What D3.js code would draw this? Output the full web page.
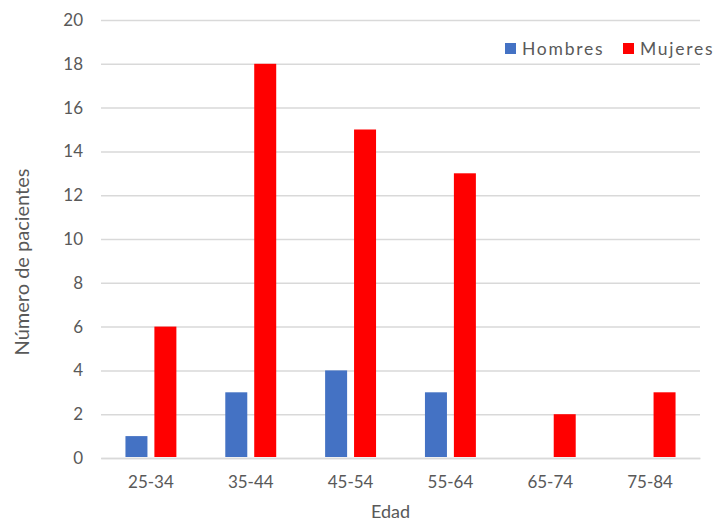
<!DOCTYPE html>
<html>
<head>
<meta charset="utf-8">
<script src="https://cdn.jsdelivr.net/npm/d3@7"></script>
<style>
  html, body { margin: 0; padding: 0; background: #fff; }
  svg { display: block; }
  text { font-family: Lato, "Open Sans", sans-serif; fill: #595959; }
</style>
</head>
<body>
<svg id="chart" width="714" height="522"></svg>
<script>
// Age groups and patient counts by sex
const categories = ["25-34", "35-44", "45-54", "55-64", "65-74", "75-84"];
const hombres = [1, 3, 4, 3, 0, 0];
const mujeres = [6, 18, 15, 13, 2, 3];
const seriesNames = ["Hombres", "Mujeres"];
const seriesColors = ["#4472C4", "#FF0000"];
const yTicks = [0, 2, 4, 6, 8, 10, 12, 14, 16, 18, 20];

const W = 714, H = 522;
const margin = { top: 20, right: 14, bottom: 64, left: 101 };
const plotW = W - margin.left - margin.right;
const plotH = H - margin.top - margin.bottom;

const svg = d3.select("#chart");
const g = svg.append("g").attr("transform", `translate(${margin.left},${margin.top})`);

const x0 = d3.scaleBand().domain(categories).range([0, plotW]).padding(0);
const x1 = d3.scaleBand().domain(seriesNames).range([0, x0.bandwidth()])
  .paddingInner(0.24).paddingOuter(0.845);
const y = d3.scaleLinear().domain([0, 20]).range([plotH, 0]);

// Horizontal gridlines
const yAxis = d3.axisLeft(y).tickValues(yTicks).tickSize(-plotW).tickFormat(d3.format("d")).tickPadding(18);
const ya = g.append("g").call(yAxis);
ya.select(".domain").remove();
ya.selectAll(".tick line").attr("stroke", "#d9d9d9").attr("stroke-width", 1.5);
ya.selectAll(".tick text").attr("font-size", 17).attr("fill", "#595959")
  .attr("font-family", "Lato, sans-serif");

// Category axis
const xAxis = d3.axisBottom(x0).tickSize(0).tickPadding(18);
const xa = g.append("g").attr("transform", `translate(0,${plotH})`).call(xAxis);
xa.select(".domain").attr("stroke", "#d9d9d9").attr("stroke-width", 1.5);
xa.selectAll(".tick text").attr("font-size", 17).attr("fill", "#595959")
  .attr("font-family", "Lato, sans-serif");

// Bars
const rows = categories.map((c, i) => ({ cat: c, values: [hombres[i], mujeres[i]] }));
const groups = g.selectAll("g.grp").data(rows).join("g")
  .attr("class", "grp")
  .attr("transform", d => `translate(${x0(d.cat)},0)`);
groups.selectAll("rect")
  .data(d => d.values.map((v, k) => ({ name: seriesNames[k], v, k })).filter(d => d.v > 0))
  .join("rect")
  .attr("x", d => x1(d.name))
  .attr("width", x1.bandwidth())
  .attr("y", d => y(d.v))
  .attr("height", d => y(0) - y(d.v) - 1)
  .attr("fill", d => seriesColors[d.k]);

// Axis titles
svg.append("text")
  .attr("x", margin.left + plotW / 2 - 10)
  .attr("y", 518)
  .attr("text-anchor", "middle")
  .attr("font-size", 18)
  .text("Edad");

svg.append("text")
  .attr("transform", `translate(29,${262}) rotate(-90)`)
  .attr("text-anchor", "middle")
  .attr("font-size", 20)
  .text("Número de pacientes");

// Legend
const legend = svg.append("g");
const legendPos = [505, 623];
seriesNames.forEach((name, k) => {
  legend.append("rect")
    .attr("x", legendPos[k]).attr("y", 43)
    .attr("width", 11).attr("height", 11)
    .attr("fill", seriesColors[k]);
  legend.append("text")
    .attr("x", legendPos[k] + 17).attr("y", 54.5)
    .attr("font-size", 17.5)
    .attr("letter-spacing", "0.1em")
    .text(name);
});
</script>
</body>
</html>
